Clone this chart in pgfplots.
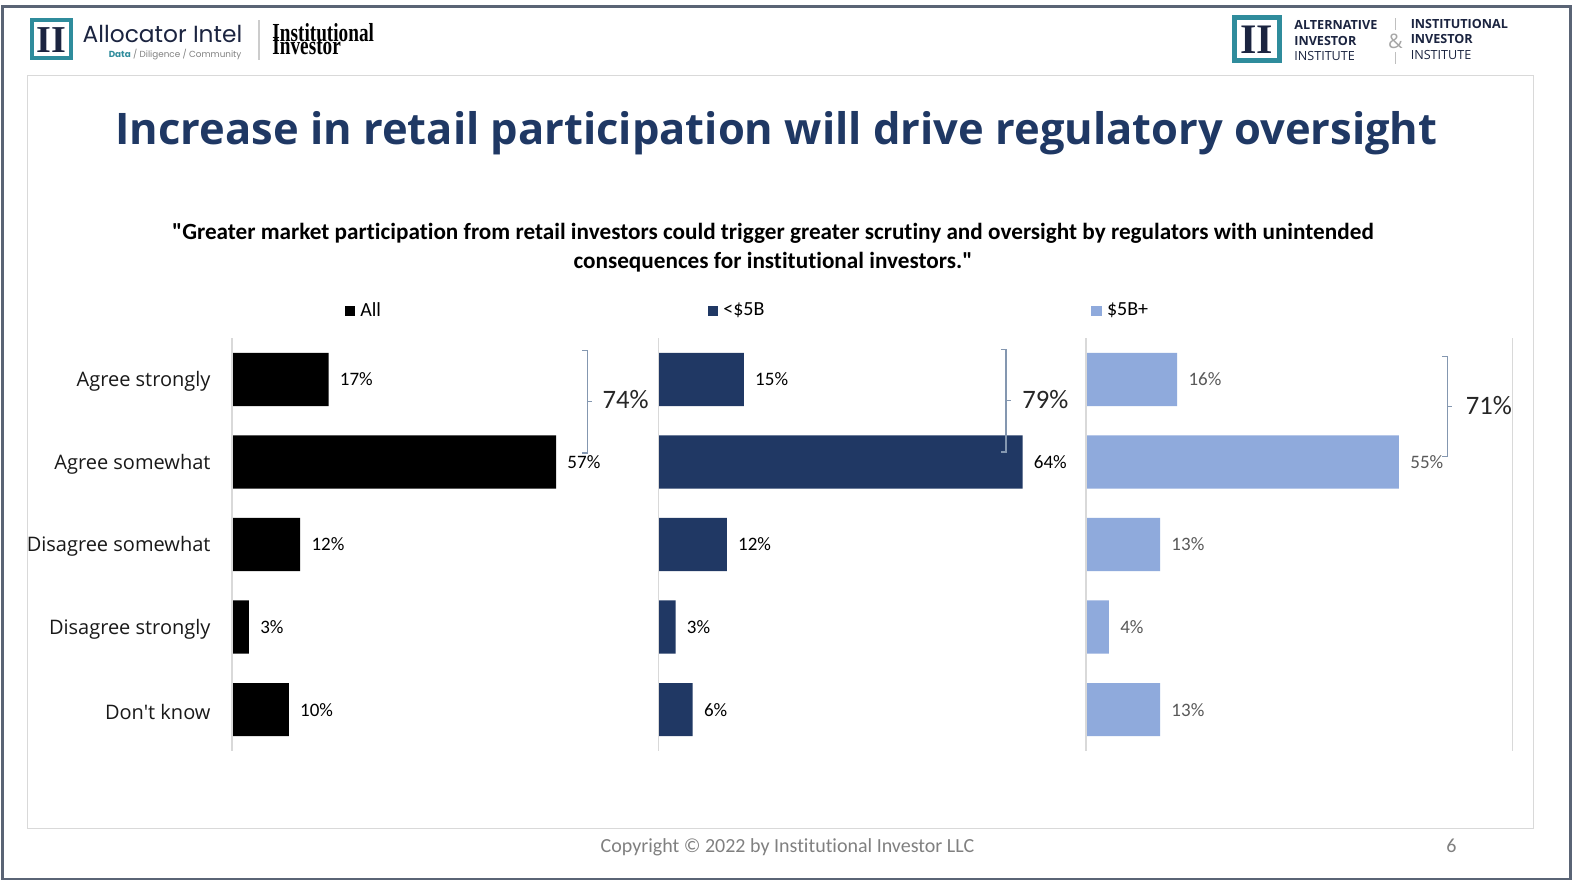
\documentclass[border=0pt]{standalone}
\usepackage{pgfplots}
\pgfplotsset{compat=1.18}
\usepackage{pgfplotstable}
\usepackage{fontspec}
\setmainfont{Carlito}[Ligatures={NoCommon}]
\newfontfamily\carq{Carlito}[Ligatures={TeXOff,NoCommon}]
\newfontfamily\osans{Open Sans}
\newfontfamily\pop{Poppins}
\newfontfamily\lserif{Liberation Serif}
\definecolor{titlenavy}{HTML}{1F3864}
\definecolor{barnavy}{HTML}{203864}
\definecolor{barlight}{HTML}{8FAADC}
\definecolor{brk}{HTML}{8497B0}
\definecolor{axgray}{HTML}{D9D9D9}
\definecolor{framec}{HTML}{5A6475}
\definecolor{logoteal}{HTML}{2F8C9C}
\definecolor{lognavy}{HTML}{1B2440}
\definecolor{foot}{HTML}{808080}
\definecolor{lbl3}{HTML}{595959}

\pgfplotstableread{
cat all small large
0 17 15 16
1 57 64 55
2 12 12 13
3 3 3 4
4 10 6 13
}\data

\pgfplotsset{
 panel/.style={
   anchor=south west, width=213.3pt, height=206.3pt, scale only axis,
   xbar, bar width=26.6pt, bar shift=0pt,
   xmin=0, xmax=75, ymin=-0.5, ymax=4.5, y dir=reverse,
   axis line style={draw=none}, xtick=\empty, ytick={0,1,2,3,4},
   yticklabels={}, major tick length=0pt, tick style={draw=none},
   clip=false,
   /pgf/number format/assume math mode=true,
   point meta=x,
   nodes near coords={\pgfmathprintnumber[assume math mode=true]{\pgfplotspointmeta}\%},
   every node near coord/.append style={anchor=west, inner sep=0pt, xshift=5.5pt, font=\fontsize{9.5}{11}\selectfont},
   legend style={draw=none, fill=none, inner sep=0pt, outer sep=0pt, font=\fontsize{10}{12}\selectfont, anchor=west, nodes={inner sep=1.2pt}},
   legend cell align=left,
   legend image code/.code={\fill[##1] (0pt,-2.6pt) rectangle (5.2pt,2.6pt);},
 }
}

\begin{document}
\begin{tikzpicture}
\begin{scope}[x=0.5019pt,y=-0.5019pt]
\path[use as bounding box] (0,0) rectangle (1568,881);
\fill[white] (0,0) rectangle (1568,881);
\draw[framec, line width=1.1pt] (2.5,6.5) rectangle (1564.5,875.5);
\draw[axgray, line width=0.6pt] (27,75) rectangle (1528,825);
% left logo
\draw[logoteal, line width=2pt] (32,20) rectangle (71,58);
\node[text=lognavy, font=\lserif\bfseries\fontsize{19}{19}\selectfont, inner sep=0pt] at (51.5,39.5) {II};
\node[anchor=base west, inner sep=0pt, text=lognavy] at (82,42) {\resizebox{79.8pt}{!}{\pop Allocator Intel}};
\node[anchor=base west, inner sep=0pt] at (108,57) {\resizebox{66.3pt}{!}{\pop\textcolor{logoteal}{\bfseries Data} \textcolor{gray}{/ Diligence / Community}}};
\draw[black!20, line width=0.6pt] (258,20) -- (258,60);
\node[anchor=base west, inner sep=0pt, font=\lserif\bfseries\fontsize{13}{13}\selectfont] at (271,41) {\scalebox{0.74}[1]{Institutional}};
\node[anchor=base west, inner sep=0pt, font=\lserif\bfseries\fontsize{13}{13}\selectfont] at (271,54.5) {\scalebox{0.74}[1]{Investor}};
% right logo
\draw[logoteal, line width=2.5pt] (1229.5,17.5) rectangle (1274.5,60.5);
\node[text=lognavy, font=\lserif\bfseries\fontsize{21}{21}\selectfont, inner sep=0pt] at (1252,40) {II};
\node[anchor=north west, inner sep=0pt, align=left, text=lognavy, font=\osans\fontsize{6.3}{7.8}\selectfont] at (1289,20) {{\bfseries ALTERNATIVE}\\{\bfseries INVESTOR}\\INSTITUTE};
\node[anchor=north west, inner sep=0pt, align=left, text=lognavy, font=\osans\fontsize{6.3}{7.6}\selectfont] at (1405,19) {{\bfseries INSTITUTIONAL}\\{\bfseries INVESTOR}\\INSTITUTE};
\draw[black!25, line width=0.5pt] (1390,18) -- (1390,30);
\draw[black!25, line width=0.5pt] (1390,52) -- (1390,64);
\node[text=black!35, font=\osans\fontsize{10}{10}\selectfont, inner sep=0pt] at (1390,41) {\&};
% title
\node[anchor=base, inner sep=0pt, text=titlenavy] at (773.5,144) {\resizebox{661pt}{!}{\osans\bfseries Increase in retail participation will drive regulatory oversight}};
% subtitle
\node[anchor=base, inner sep=0pt, font=\carq\bfseries\fontsize{11.6}{13}\selectfont] at (770,239) {"Greater market participation from retail investors could trigger greater scrutiny and oversight by regulators with unintended};
\node[anchor=base, inner sep=0pt, font=\carq\bfseries\fontsize{11.6}{13}\selectfont] at (770,267) {consequences for institutional investors."};
% footer
\node[anchor=base west, inner sep=0pt, text=foot, font=\fontsize{10}{12}\selectfont] at (598,849) {Copyright \textcopyright{} 2022 by Institutional Investor LLC};
\node[anchor=base, inner sep=0pt, text=foot, font=\fontsize{10}{12}\selectfont] at (1446,849) {6};
\end{scope}

% panel 1
\begin{axis}[panel, at={(115.94pt,-375.42pt)},
  yticklabels={Agree strongly, Agree somewhat, Disagree somewhat, Disagree strongly, Don't know},
  yticklabel style={font=\osans\fontsize{10}{12}\selectfont, anchor=east, inner sep=0pt, xshift=-10.5pt, yshift=-1pt, text=black!90},
  legend style={at={(0.264,1)}, yshift=13.6pt}]
\addplot[fill=black, draw=none] table[x=all, y=cat] {\data};
\legend{\hspace{1.5pt}All}
\draw[axgray, line width=0.75pt] (rel axis cs:0,0) -- (rel axis cs:0,1);
\draw[brk, line width=0.8pt] (axis cs:61.6,-0.354) -- (axis cs:62.5,-0.354) -- (axis cs:62.5,0.887) -- (axis cs:61.6,0.887);
\draw[brk, line width=0.8pt] (axis cs:62.5,0.266) -- (axis cs:63.3,0.266);
\node[anchor=west, inner sep=0pt, font=\fontsize{13.3}{15}\selectfont, text=black!85] at (axis cs:65.1,0.242) {74\%};
\end{axis}

% panel 2
\begin{axis}[panel, at={(329.25pt,-375.42pt)},
  legend style={at={(0.115,1)}, yshift=13.6pt}]
\addplot[fill=barnavy, draw=none] table[x=small, y=cat] {\data};
\legend{\hspace{1.5pt}<\$5B}
\draw[axgray, line width=0.75pt] (rel axis cs:0,0) -- (rel axis cs:0,1);
\draw[brk, line width=0.8pt] (axis cs:60.2,-0.366) -- (axis cs:61.1,-0.366) -- (axis cs:61.1,0.875) -- (axis cs:60.2,0.875);
\draw[brk, line width=0.8pt] (axis cs:61.1,0.255) -- (axis cs:61.9,0.255);
\node[anchor=west, inner sep=0pt, font=\fontsize{13.3}{15}\selectfont, text=black!85] at (axis cs:63.9,0.242) {79\%};
\end{axis}

% panel 3
\begin{axis}[panel, at={(543.06pt,-375.42pt)},
  every node near coord/.append style={text=lbl3},
  legend style={at={(0.012,1)}, yshift=13.6pt}]
\addplot[fill=barlight, draw=none] table[x=large, y=cat] {\data};
\legend{\hspace{1.5pt}\$5B+}
\draw[axgray, line width=0.75pt] (rel axis cs:0,0) -- (rel axis cs:0,1);
\draw[axgray, line width=0.75pt] (rel axis cs:1,0) -- (rel axis cs:1,1);
\draw[brk, line width=0.8pt] (axis cs:62.6,-0.281) -- (axis cs:63.5,-0.281) -- (axis cs:63.5,0.935) -- (axis cs:62.6,0.935);
\draw[brk, line width=0.8pt] (axis cs:63.5,0.327) -- (axis cs:64.3,0.327);
\node[anchor=west, inner sep=0pt, font=\fontsize{13.3}{15}\selectfont, text=black!85] at (axis cs:66.7,0.315) {71\%};
\end{axis}
\end{tikzpicture}
\end{document}
